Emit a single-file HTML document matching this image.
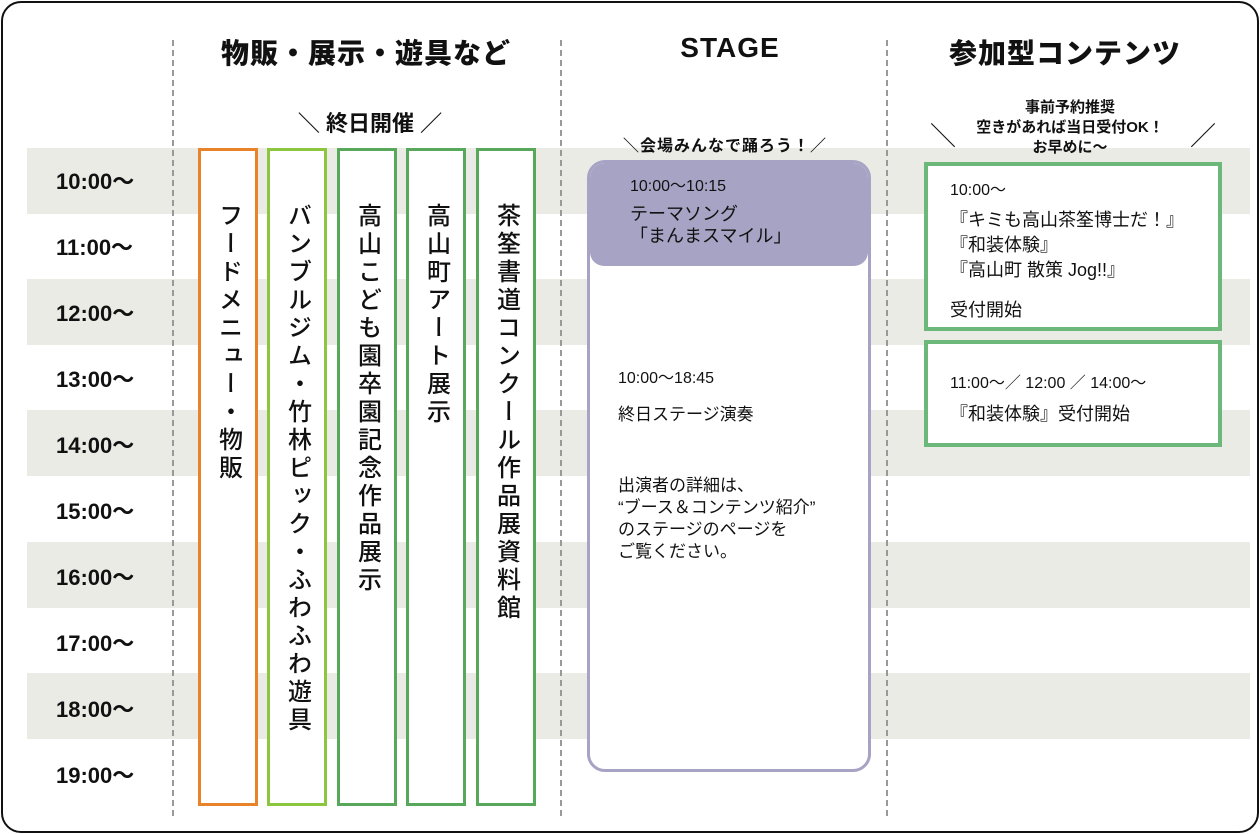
<!DOCTYPE html>
<html><head><meta charset="utf-8"><style>
*{margin:0;padding:0;box-sizing:border-box}
body{width:1260px;height:834px;background:#fff;position:relative;overflow:hidden;font-family:"Liberation Sans","Noto Sans CJK JP",sans-serif;color:#111}
.a{position:absolute}
.frame{left:1px;top:1px;width:1258px;height:832px;border:2px solid #111;border-radius:20px}
.band{left:27px;width:1223px;height:66px;background:#ebebe6}
.dash{width:0;top:40px;height:776px;border-left:2px dashed #999}
.t{left:56px;font-size:22px;font-weight:bold;width:100px}
.h{font-size:28px;font-weight:900;top:32px;text-align:center;letter-spacing:1px}
.col{top:148px;height:658px;width:60px;border:3px solid;background:#fff}
.v{writing-mode:vertical-rl;font-size:24px;letter-spacing:4px;position:absolute;top:52px;left:50%;transform:translateX(-50%);white-space:nowrap;font-weight:500}
.s{font-size:16px}
.b{font-size:17px}
</style></head><body>
<div class="a band" style="top:148px"></div>
<div class="a band" style="top:279px"></div>
<div class="a band" style="top:410px"></div>
<div class="a band" style="top:542px"></div>
<div class="a band" style="top:673px"></div>
<div class="a frame"></div>
<div class="a dash" style="left:172px"></div>
<div class="a dash" style="left:560px"></div>
<div class="a dash" style="left:886px"></div>

<div class="a t" style="top:164px">10:00～</div>
<div class="a t" style="top:230px">11:00～</div>
<div class="a t" style="top:296px">12:00～</div>
<div class="a t" style="top:362px">13:00～</div>
<div class="a t" style="top:428px">14:00～</div>
<div class="a t" style="top:494px">15:00～</div>
<div class="a t" style="top:560px">16:00～</div>
<div class="a t" style="top:626px">17:00～</div>
<div class="a t" style="top:692px">18:00～</div>
<div class="a t" style="top:758px">19:00～</div>

<div class="a h" style="left:180px;width:372px">物販・展示・遊具など</div>
<div class="a h" style="left:600px;width:260px">STAGE</div>
<div class="a h" style="left:900px;width:330px">参加型コンテンツ</div>

<div class="a" style="left:270px;top:106px;width:200px;text-align:center;font-size:22px;font-weight:bold">＼ 終日開催 ／</div>

<div class="a col" style="left:198px;border-color:#e8832a"><div class="v">フードメニュー・物販</div></div>
<div class="a col" style="left:267px;border-color:#8cc63f"><div class="v">バンブルジム・竹林ピック・ふわふわ遊具</div></div>
<div class="a col" style="left:337px;border-color:#57a85a"><div class="v">高山こども園卒園記念作品展示</div></div>
<div class="a col" style="left:406px;border-color:#57a85a"><div class="v">高山町アート展示</div></div>
<div class="a col" style="left:476px;border-color:#57a85a"><div class="v">茶筌書道コンクール作品展資料館</div></div>

<div class="a" style="left:600px;top:132px;width:250px;text-align:center;font-size:16px;font-weight:bold;letter-spacing:1px">＼会場みんなで踊ろう！／</div>
<div class="a" style="left:587px;top:160px;width:284px;height:612px;border:3px solid #a7a3c4;border-radius:18px;background:#fff;overflow:hidden">
  <div class="a" style="left:0;top:0;width:100%;height:103px;background:#a7a3c4;border-radius:0 0 14px 14px"></div>
  <div class="a s" style="left:40px;top:9px">10:00～10:15</div>
  <div class="a b" style="left:40px;top:40px;line-height:22px;font-size:18px">テーマソング<br>「まんまスマイル」</div>
  <div class="a s" style="left:28px;top:201px">10:00～18:45</div>
  <div class="a b" style="left:28px;top:237px">終日ステージ演奏</div>
  <div class="a b" style="left:28px;top:312px;line-height:22px">出演者の詳細は、<br>“ブース＆コンテンツ紹介”<br>のステージのページを<br>ご覧ください。</div>
</div>

<div class="a" style="left:925px;top:98px;width:290px;text-align:center;font-size:15px;font-weight:bold;line-height:20px">事前予約推奨<br>空きがあれば当日受付OK！<br>お早めに～</div>
<div class="a" style="left:930px;top:116px;font-size:26px">＼</div>
<div class="a" style="left:1190px;top:116px;font-size:26px">／</div>

<div class="a" style="left:924px;top:162px;width:298px;height:169px;border:4px solid #6cb77a;background:#fff">
  <div class="a s" style="left:22px;top:10px">10:00～</div>
  <div class="a b" style="left:22px;top:42px;line-height:25px;font-size:18px">『キミも高山茶筌博士だ！』<br>『和装体験』<br>『高山町 散策 Jog!!』</div>
  <div class="a b" style="left:22px;top:130px;font-size:18px">受付開始</div>
</div>
<div class="a" style="left:924px;top:340px;width:298px;height:107px;border:4px solid #6cb77a;background:#fff">
  <div class="a s" style="left:22px;top:25px">11:00～／ 12:00 ／ 14:00～</div>
  <div class="a b" style="left:22px;top:56px;font-size:18px">『和装体験』受付開始</div>
</div>
</body></html>
